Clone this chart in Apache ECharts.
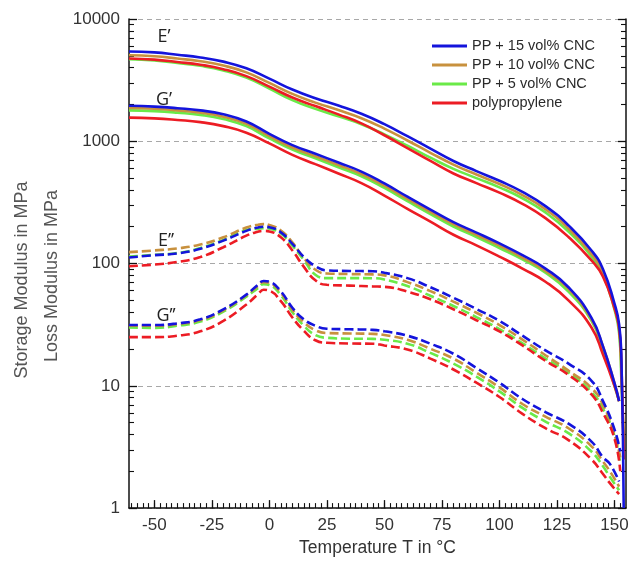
<!DOCTYPE html>
<html><head><meta charset="utf-8">
<script src="https://cdn.jsdelivr.net/npm/echarts@6/dist/echarts.min.js"></script>
<style>html,body{margin:0;padding:0;background:#fff}#c{width:634px;height:562px}</style>
</head><body><div id="c"></div><script>
// ---- data ----
const samples = ['PP + 15 vol% CNC', 'PP + 10 vol% CNC', 'PP + 5 vol% CNC', 'polypropylene'];
const colors = ['#1414dc', '#c8913e', '#6aea48', '#ec1c24'];
const xMajorTicks = [-50, -25, 0, 25, 50, 75, 100, 125, 150];
const yMajorTicks = [1, 10, 100, 1000, 10000];

// E' (storage, tensile)
const tE1 = [-61,-50,-40,-30,-20,-10,0,10,20,30,40,50,60,70,80,90,100,110,120,130,140,145,150,152,153,154];
const E1_15 = [5430,5330,5100,4850,4480,3950,3250,2650,2250,1960,1680,1380,1100,870,690,570,475,385,295,205,128,90,47,32,17,1];
const E1_10 = [5050,4960,4750,4510,4160,3660,3000,2440,2070,1800,1545,1270,1015,805,645,535,447,363,278,193,120,85,44,29,13,3];
const E1_5  = [4680,4580,4370,4140,3800,3320,2700,2170,1840,1600,1380,1140,920,735,595,500,420,342,262,183,114,81,42,27,11,3.5];
const E1_PP = [4750,4650,4450,4230,3890,3410,2800,2280,1940,1660,1400,1120,880,690,545,455,380,308,235,165,106,78,43,30,15,2.5];

// G' (storage, shear)
const tG1 = [-61,-50,-40,-30,-20,-10,0,10,20,30,40,50,60,70,80,90,100,110,120,130,140,145,150,152];
const G1_15 = [1950,1920,1865,1790,1660,1450,1150,930,790,670,565,452,352,276,218,179,146,117,91,64,36,21,10.5,7.5];
const G1_10 = [1870,1845,1790,1715,1590,1390,1100,890,755,640,540,433,338,265,210,172,140,112,87,62,35,21,10.5,7.5];
const G1_5  = [1790,1765,1715,1645,1520,1330,1055,855,725,613,518,415,324,254,201,165,134,108,84,59,34,20,10,7.5];
const G1_PP = [1560,1540,1495,1435,1330,1175,960,775,650,545,455,360,280,220,172,141,114,91,71,50,30,18,10,7.5];

// E'' (loss, tensile)
const tE2 = [-61,-50,-40,-30,-20,-10,-5,-2.5,0,5,10,15,20,25,35,45,50,60,70,80,90,100,110,120,130,140,145,150,152.5];
const E2_15 = [112,117,121,132,154,185,197,200,198,180,145,113,95,88,87,86.5,84,76,64,52.5,42.5,34,25.7,19.5,15.2,11,7.5,4.4,2.9];
const E2_10 = [124,128,133,143,164,197,208,210,207,186,149,111,89,83,82,81.5,80,70.5,59.5,48.8,39.6,31.4,23.9,17.8,13.3,9.6,7.0,4.0,2.6];
const E2_5  = [114,118,122,134,156,188,193,195,193,176,140,107,81,76,76,75.8,74,65.5,54.5,45,36.5,29.1,22.3,16.7,12.8,8.9,6.5,3.9,2.3];
const E2_PP = [95,98,103,113,136,169,182,185,183,164,128,94,73,67,66,65,64.5,59,51,42.3,34.4,27.9,21.4,16,12.3,8.5,6.0,3.7,2.0];

// G'' (loss, shear)
const tG2 = [-61,-50,-40,-30,-20,-10,-5,-2.5,0,5,10,15,20,25,35,45,50,60,70,80,90,100,110,120,130,140,145,148,152];
const G2_15 = [31.4,31.4,32.4,35,42.2,55.7,67,72,71,59.2,43.5,35,31,29.3,29,28.7,27.9,25.7,22.1,18.3,14,10.6,7.8,6.1,4.9,3.5,2.6,2.3,1.65];
const G2_10 = [31,31,32,34.5,41.5,55,65.5,70.5,69.5,57.5,42,33,28.5,27,26.8,26.6,26,23.8,20.1,16.7,12.8,9.7,7.1,5.6,4.5,3.2,2.4,2.0,1.5];
const G2_5  = [30,29.8,31,33.5,40.5,53.5,63,67.8,66.8,55,40,31,26,24.7,24.3,24.2,23.8,22.1,18.6,15.2,11.9,9.0,6.6,5.1,4.1,2.9,2.2,1.8,1.4];
const G2_PP = [25,25,25.7,27.9,34,46.2,56,61,60,49.2,36.2,28.2,23.6,22.5,22.2,22.1,21.4,19.8,16.7,13.6,10.6,8.1,5.9,4.5,3.6,2.5,1.9,1.6,1.3];

// ---- build ----
const families = [
  {t: tE1, vals: [E1_15, E1_10, E1_5, E1_PP], dashed: false},
  {t: tG1, vals: [G1_15, G1_10, G1_5, G1_PP], dashed: false},
  {t: tE2, vals: [E2_15, E2_10, E2_5, E2_PP], dashed: true},
  {t: tG2, vals: [G2_15, G2_10, G2_5, G2_PP], dashed: true}
];
const drawOrder = [2, 1, 3, 0];
const series = [];
families.forEach(f => {
  drawOrder.forEach(k => {
    series.push({
      type: 'line', name: samples[k], xAxisIndex: 0, yAxisIndex: 0,
      data: f.t.map((t, i) => [t, f.vals[k][i]]),
      showSymbol: false, symbol: 'none', smooth: 0.5,
      color: colors[k],
      lineStyle: {width: 2.6, color: colors[k], type: f.dashed ? [9, 4] : 'solid'},
      silent: true, animation: false, clip: true
    });
  });
});

const xMinorTicks = [];
for (let v = -60; v <= 152.5; v += 2.5) xMinorTicks.push(v);
const yMinorTicks = [];
[1, 10, 100, 1000].forEach(d => { for (let m = 2; m <= 9; m++) yMinorTicks.push(d * m); });

const axisCol = '#111';
const chart = echarts.init(document.getElementById('c'), null, {renderer: 'canvas'});
const baseX = {type: 'value', min: -61, max: 155, gridIndex: 0};
const baseY = {type: 'log', logBase: 10, min: 1, max: 10000, gridIndex: 0};
chart.setOption({
  animation: false,
  backgroundColor: '#fff',
  grid: {left: 129, right: 8, top: 19, bottom: 45, containLabel: false},
  legend: {
    data: samples, orient: 'vertical', left: 427, top: 33,
    icon: 'rect', itemWidth: 35, itemHeight: 3, itemGap: 3,
    textStyle: {fontFamily: 'Liberation Sans', fontSize: 14.5, color: '#2a2a2a', lineHeight: 16}
  },
  xAxis: [
    Object.assign({}, baseX, {
      position: 'bottom',
      name: 'Temperature T in °C', nameLocation: 'middle', nameGap: 29,
      nameTextStyle: {fontFamily: 'Liberation Sans', fontSize: 17.5, color: '#333'},
      axisLine: {show: true, onZero: false, lineStyle: {color: axisCol, width: 1.5}},
      axisTick: {show: true, inside: true, length: 8, customValues: xMajorTicks, lineStyle: {color: axisCol, width: 1.3}},
      axisLabel: {show: true, customValues: xMajorTicks, margin: 9, fontFamily: 'Liberation Sans', fontSize: 17, color: '#333'},
      splitLine: {show: false}
    }),
    Object.assign({}, baseX, {
      position: 'bottom',
      axisLine: {show: false, onZero: false},
      axisTick: {show: true, inside: true, length: 5, customValues: xMinorTicks, lineStyle: {color: axisCol, width: 1.1}},
      axisLabel: {show: false},
      splitLine: {show: false}
    })
  ],
  yAxis: [
    Object.assign({}, baseY, {
      position: 'left',
      axisLine: {show: true, onZero: false, lineStyle: {color: axisCol, width: 1.5}},
      axisTick: {show: true, inside: true, length: 8, customValues: yMajorTicks, lineStyle: {color: axisCol, width: 1.3}},
      axisLabel: {show: true, customValues: yMajorTicks, margin: 9, fontFamily: 'Liberation Sans', fontSize: 17, color: '#333', formatter: v => String(Math.round(v))},
      splitLine: {show: true, lineStyle: {color: '#a8a8a8', width: 1, type: [5, 4]}}
    }),
    Object.assign({}, baseY, {
      position: 'left',
      axisLine: {show: false, onZero: false},
      axisTick: {show: true, inside: true, length: 5, customValues: yMinorTicks, lineStyle: {color: axisCol, width: 1.1}},
      axisLabel: {show: false}, splitLine: {show: false}
    }),
    Object.assign({}, baseY, {
      position: 'right',
      axisLine: {show: true, onZero: false, lineStyle: {color: axisCol, width: 1.5}},
      axisTick: {show: true, inside: true, length: 8, customValues: yMajorTicks, lineStyle: {color: axisCol, width: 1.3}},
      axisLabel: {show: false}, splitLine: {show: false}
    }),
    Object.assign({}, baseY, {
      position: 'right',
      axisLine: {show: false, onZero: false},
      axisTick: {show: true, inside: true, length: 5, customValues: yMinorTicks, lineStyle: {color: axisCol, width: 1.1}},
      axisLabel: {show: false}, splitLine: {show: false}
    })
  ],
  graphic: [
    {type: 'text', x: 22, y: 280, rotation: Math.PI / 2, style: {text: 'Storage Modulus in MPa', font: '18px "Liberation Sans"', fill: '#555', align: 'center', verticalAlign: 'middle'}},
    {type: 'text', x: 52, y: 276, rotation: Math.PI / 2, style: {text: 'Loss Modulus in MPa', font: '18px "Liberation Sans"', fill: '#555', align: 'center', verticalAlign: 'middle'}},
    {type: 'text', x: 164, y: 37, style: {text: 'E’', font: '18px "Open Sans"', fill: '#222', align: 'center', verticalAlign: 'middle'}},
    {type: 'text', x: 164, y: 100, style: {text: 'G’', font: '18px "Open Sans"', fill: '#222', align: 'center', verticalAlign: 'middle'}},
    {type: 'text', x: 166, y: 241, style: {text: 'E’’', font: '18px "Open Sans"', fill: '#222', align: 'center', verticalAlign: 'middle'}},
    {type: 'text', x: 166, y: 316, style: {text: 'G’’', font: '18px "Open Sans"', fill: '#222', align: 'center', verticalAlign: 'middle'}}
  ],
  series: series
});
</script></body></html>
